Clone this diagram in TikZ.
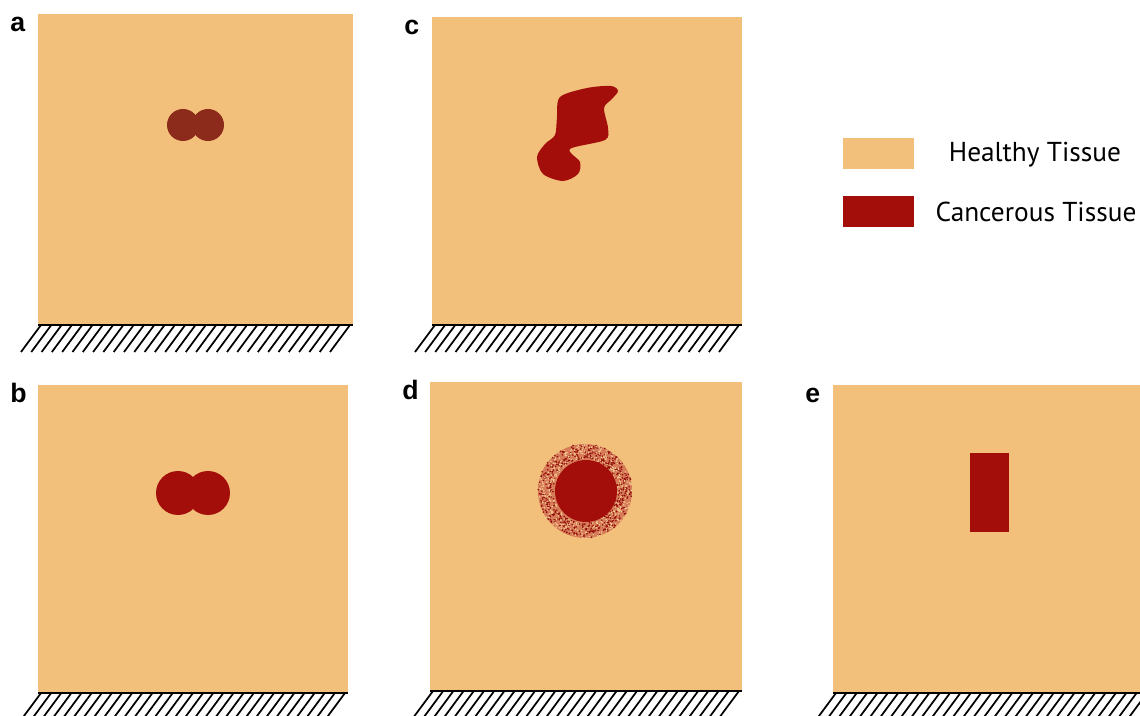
\documentclass[tikz,border=0pt]{standalone}
\usepackage{fontspec}
\setmainfont{PT Sans}
\newfontfamily\lblfont{Liberation Sans}
\usetikzlibrary{positioning}
\definecolor{healthy}{RGB}{242,192,122}
\definecolor{cancer}{RGB}{163,14,10}
\definecolor{early}{RGB}{140,42,28}
\definecolor{rim}{RGB}{214,124,88}
\tikzset{
  tis/.style={fill=healthy,draw=none},
  tum/.style={fill=cancer,draw=none},
  gnd/.style={line width=1.3pt},
  hat/.style={line width=1.3pt},
  lbl/.style={font=\lblfont\bfseries\fontsize{20}{20}\selectfont,anchor=base west,inner sep=0pt},
  leg/.style={font=\fontsize{20.5}{20.5}\selectfont,inner sep=0pt},
  swatch/.style={draw=none,minimum width=53.25pt,minimum height=23.25pt,inner sep=0pt}
}
% fixed support under a block: x1, x2, y
\newcommand{\ground}[3]{
  \draw[gnd] (#1,#3) -- (#2,#3);
  \foreach \k in {0,...,30} \draw[hat] ({#1+3+(#2-#1-6)*\k/30},#3) -- ++(-20,27);
}
% one tissue block: name, letter, x1, y1, x2, y2
\newcommand{\panel}[6]{
  \fill[tis] (#3,#4) rectangle (#5,#6);
  \ground{#3}{#5}{#6}
  \node[lbl] (lbl#1) at (#3-28,#4+18) {#2};
}

\begin{document}
\begin{tikzpicture}[x=0.75pt,y=-0.75pt]
\useasboundingbox (0,0) rectangle (1140,716);
\clip (0,0) rectangle (1140,716);

\panel{a}{a}{38}{14}{353}{325}
\panel{c}{c}{432}{17}{742}{325}
\panel{b}{b}{38}{385}{348}{693}
\panel{d}{d}{430}{382}{742}{691}
\panel{e}{e}{833}{385}{1150}{693}

% tumours
\fill[early] (183,125) circle[radius=16] (208,125) circle[radius=16];
\fill[tum] (178,493) circle[radius=22] (208,493) circle[radius=22];
\fill[tum] plot[smooth cycle,tension=0.5] coordinates {(560,97) (587,88) (611,86) (618,91) (612,99) (604,108) (608,128) (605,140) (570,149) (580,162) (578,174) (563,181) (543,174) (537,157) (545,144) (555,135) (557,117)};
\fill[rim] (585,491) circle[radius=47];
\pgfmathsetseed{7}
\foreach \i in {1,...,550}{
  \pgfmathsetmacro\rr{32+15*rnd}
  \pgfmathsetmacro\aa{360*rnd}
  \fill[cancer!90!black] (585,491) ++(\aa:\rr) circle[radius=0.9];
}
\foreach \i in {1,...,400}{
  \pgfmathsetmacro\rr{32+15*rnd}
  \pgfmathsetmacro\aa{360*rnd}
  \fill[healthy!80!white] (585,491) ++(\aa:\rr) circle[radius=0.8];
}
\fill[tum] (586,491) circle[radius=31];
\fill[tum] (970,453) rectangle (1009,532);

% legend
\node[swatch,fill=healthy] (swH) at (878.5,153.5) {};
\node[swatch,fill=cancer] (swC) at (878.5,211.5) {};
\node[leg] (txH) at (1035,155) {Healthy Tissue};
\node[leg] (txC) at (1036,212) {Cancerous Tissue};
\end{tikzpicture}
\end{document}
